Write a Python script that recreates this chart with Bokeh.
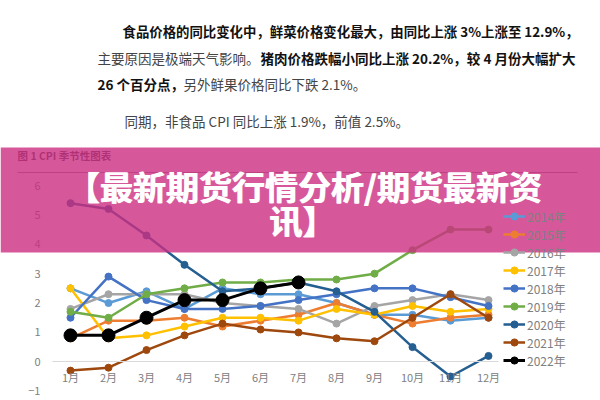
from bokeh.plotting import figure
from bokeh.models import Range1d, LinearAxis, FixedTicker, Label, BoxAnnotation, Legend, LegendItem
from bokeh.embed import file_html
from bokeh.resources import INLINE

# ---------------- data ----------------
months = ["1月", "2月", "3月", "4月", "5月", "6月", "7月", "8月", "9月", "10月", "11月", "12月"]
month_idx = [1, 2, 3, 4, 5, 6, 7, 8, 9, 10, 11, 12]
y_ticks = [-1, 0, 1, 2, 3, 4, 5, 6]
years = ["2014年", "2015年", "2016年", "2017年", "2018年", "2019年", "2020年", "2021年", "2022年"]
cpi_2014 = [2.5, 2.0, 2.4, 1.8, 2.5, 2.3, 2.3, 2.0, 1.6, 1.6, 1.4, 1.5]
cpi_2015 = [0.8, 1.4, 1.4, 1.5, 1.2, 1.4, 1.6, 2.0, 1.6, 1.3, 1.5, 1.6]
cpi_2016 = [1.8, 2.3, 2.3, 2.3, 2.0, 1.9, 1.8, 1.3, 1.9, 2.1, 2.3, 2.1]
cpi_2017 = [2.5, 0.8, 0.9, 1.2, 1.5, 1.5, 1.4, 1.8, 1.6, 1.9, 1.7, 1.8]
cpi_2018 = [1.5, 2.9, 2.1, 1.8, 1.8, 1.9, 2.1, 2.3, 2.5, 2.5, 2.2, 1.9]
cpi_2019 = [1.7, 1.5, 2.3, 2.5, 2.7, 2.7, 2.8, 2.8, 3.0, 3.8, 4.5, 4.5]
cpi_2020 = [5.4, 5.2, 4.3, 3.3, 2.4, 2.5, 2.7, 2.4, 1.7, 0.5, -0.5, 0.2]
cpi_2021 = [-0.3, -0.2, 0.4, 0.9, 1.3, 1.1, 1.0, 0.8, 0.7, 1.5, 2.3, 1.5]
cpi_2022 = [0.9, 0.9, 1.5, 2.1, 2.1, 2.5, 2.7]
all_series = [cpi_2014, cpi_2015, cpi_2016, cpi_2017, cpi_2018, cpi_2019, cpi_2020, cpi_2021, cpi_2022]
colors = ["#5B9BD5", "#ED7D31", "#A5A5A5", "#FFC000", "#4472C4", "#70AD47", "#255E91", "#9E480E", "#000000"]

chart_title = "图 1 CPI 季节性图表"
banner_lines = ["【最新期货行情分析/期货最新资", "讯】"]
para1_bold = "食品价格的同比变化中，鲜菜价格变化最大，由同比上涨 3%上涨至 12.9%，"
para2_normal = "主要原因是极端天气影响。"
para2_bold = "猪肉价格跌幅小同比上涨 20.2%，较 4 月份大幅扩大"
para3_bold = "26 个百分点，"
para3_normal = "另外鲜果价格同比下跌 2.1%。"
para4_normal = "同期，非食品 CPI 同比上涨 1.9%，前值 2.5%。"

FONT = "Noto Sans CJK SC"
W, H = 600, 400

p = figure(width=W, height=H, output_backend="svg", toolbar_location=None,
           x_range=Range1d(-0.842, 14.947), y_range=Range1d(-1.317, 12.297),
           x_axis_location=None, y_axis_location=None, min_border=0,
           outline_line_color=None, background_fill_color="white", border_fill_color="white")
p.grid.visible = False

xaxis = LinearAxis(fixed_location=0, ticker=FixedTicker(ticks=month_idx),
                   major_label_overrides={i: m for i, m in zip(month_idx, months)},
                   bounds=(0.52, 12.26), axis_line_color="#d9d9d9", axis_line_width=1,
                   major_tick_line_color=None, minor_tick_line_color=None,
                   major_label_standoff=1, major_label_text_font=FONT,
                   major_label_text_font_size="11px", major_label_text_color="#808080")
p.add_layout(xaxis, "below")
yaxis = LinearAxis(fixed_location=0.526, ticker=FixedTicker(ticks=y_ticks),
                   axis_line_color=None, major_tick_line_color=None, minor_tick_line_color=None,
                   major_label_standoff=6, major_label_text_font=FONT,
                   major_label_text_font_size="11px", major_label_text_color="#808080")
p.add_layout(yaxis, "left")

items = []
for name, vals, color in zip(years, all_series, colors):
    xs = month_idx[:len(vals)]
    big = name == "2022年"
    lr = p.line(xs, vals, line_color=color, line_width=3 if big else 2.5)
    sr = p.scatter(xs, vals, size=13 if big else 7, fill_color=color, line_color=color)
    items.append(LegendItem(label=name, renderers=[lr, sr]))

legend = Legend(items=items, location=(503, 31), padding=0, margin=0, spacing=0,
                glyph_height=18, glyph_width=22, label_height=18, label_standoff=2,
                label_text_font=FONT, label_text_font_size="12px", label_text_color="#808080",
                background_fill_alpha=0, border_line_color=None)
p.add_layout(legend)


def lab(x, y, text, size, bold=False, color="#222222", align="left", level="annotation"):
    l = Label(x=x, y=H - y, x_units="screen", y_units="screen", text=text,
              text_font=FONT, text_font_size=size, text_font_style="bold" if bold else "normal",
              text_color=color, text_align=align, text_baseline="middle", level=level)
    p.add_layout(l)


lab(122, 30, para1_bold, "13.4px", True, "#111111")
lab(97, 57, para2_normal, "13.5px", False, "#444444")
lab(260, 57, para2_bold, "13.5px", True, "#111111")
lab(97, 83, para3_bold, "13.5px", True, "#111111")
lab(183, 83, para3_normal, "13.5px", False, "#444444")
lab(124, 120, para4_normal, "13.5px", False, "#444444")
lab(17, 155, chart_title, "10.5px", True, "#404040")

p.add_layout(BoxAnnotation(left=17, right=577, top=H - 171.5, bottom=H - 172.5,
                           left_units="screen", right_units="screen", top_units="screen",
                           bottom_units="screen", fill_color="#8c8c8c", fill_alpha=1,
                           line_color=None))

p.add_layout(BoxAnnotation(left=0, right=W, top=H - 147, bottom=H - 252,
                           left_units="screen", right_units="screen", top_units="screen",
                           bottom_units="screen", fill_color="#CC2E82", fill_alpha=0.8,
                           line_color=None, level="overlay"))

for dx in (-0.5, 0.5):
    lab(304 + dx, 185, banner_lines[0], "33px", True, "#ffffff", "center", "overlay")
    lab(302 + dx, 219, banner_lines[1], "33px", True, "#ffffff", "center", "overlay")

open("out.html", "w").write(file_html(p, INLINE))
